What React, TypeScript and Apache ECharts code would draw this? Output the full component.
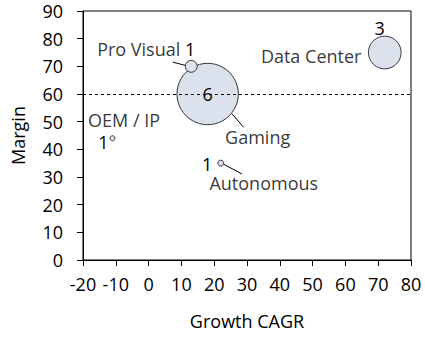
import React, { useEffect, useRef } from "react";
import * as echarts from "echarts";

const segments = ["Gaming", "Data Center", "Pro Visual", "Autonomous", "OEM / IP"];
const growthCAGR = [18, 72, 13, 22, -11];
const margin = [60, 75, 70, 35, 44];
const revenue = [6.2, 3.3, 1.2, 0.6, 0.5];
const referenceMargin = 60;
const xMin = -20, xMax = 80, xStep = 10;
const yMin = 0, yMax = 90, yStep = 10;

// presentation only
const PX_PER_UNIT = 9.9;
const FONT = "Open Sans";
const FS = 18;
const countLabel: Record<string, { position: string; offset: number[] }> = {
  Gaming: { position: "inside", offset: [0, 0] },
  "Data Center": { position: "top", offset: [-5, 3] },
  "Pro Visual": { position: "top", offset: [-1, 0] },
  Autonomous: { position: "left", offset: [-2, 1] },
  "OEM / IP": { position: "left", offset: [2, 4] },
};
const nameLabel: Record<string, { position: string; offset: number[] }> = {
  Gaming: { position: "bottom", offset: [50, -1] },
  "Data Center": { position: "left", offset: [-2, 3] },
  "Pro Visual": { position: "left", offset: [0, -17] },
  Autonomous: { position: "bottom", offset: [43, 3.5] },
  "OEM / IP": { position: "top", offset: [11.5, -2.5] },
};
// leader lines: start angle on the bubble edge, line angle, length (degrees / px)
const leader: Record<string, number[] | null> = {
  Gaming: [39, 49, 18.6],
  "Data Center": null,
  "Pro Visual": [189, 194.6, 13],
  Autonomous: [20, 28, 21],
  "OEM / IP": null,
};

export default function App() {
  const ref = useRef<HTMLDivElement>(null);
  useEffect(() => {
    if (!ref.current) return;
    const chart = echarts.init(ref.current, undefined, { renderer: "svg" });
    const points = segments.map((name, i) => ({
      name,
      value: [growthCAGR[i], margin[i], revenue[i]],
    }));
    const txt = { fontFamily: FONT, fontSize: FS, color: "#000" };
    chart.setOption({
      animation: false,
      textStyle: txt,
      grid: {
        left: 83, right: 14, top: 11, bottom: 77,
        show: true, borderColor: "#000", borderWidth: 1,
      },
      xAxis: {
        type: "value", min: xMin, max: xMax, interval: xStep,
        name: "Growth CAGR", nameLocation: "middle", nameGap: 52,
        nameTextStyle: txt,
        axisLine: { show: true, onZero: false, lineStyle: { color: "#000", width: 1 } },
        axisTick: { show: true, length: 6, lineStyle: { color: "#000" } },
        axisLabel: { margin: 15, ...txt },
        splitLine: { show: false },
      },
      yAxis: {
        type: "value", min: yMin, max: yMax, interval: yStep,
        name: "Margin", nameLocation: "middle", nameGap: 56, nameRotate: 90,
        nameTextStyle: txt,
        axisLine: { show: true, onZero: false, lineStyle: { color: "#000", width: 1 } },
        axisTick: { show: true, length: 6, lineStyle: { color: "#000" } },
        axisLabel: { margin: 20, ...txt },
        splitLine: { show: false },
      },
      series: [
        {
          type: "custom",
          z: 1,
          silent: true,
          data: points,
          renderItem: (params: any, api: any) => {
            const cfg = leader[segments[params.dataIndex]];
            if (!cfg) return null;
            const c = api.coord([api.value(0), api.value(1)]);
            const r = (api.value(2) * PX_PER_UNIT) / 2;
            const a0 = (cfg[0] * Math.PI) / 180;
            const a1 = (cfg[1] * Math.PI) / 180;
            const x1 = c[0] + r * Math.cos(a0);
            const y1 = c[1] + r * Math.sin(a0);
            return {
              type: "line",
              shape: { x1, y1, x2: x1 + cfg[2] * Math.cos(a1), y2: y1 + cfg[2] * Math.sin(a1) },
              style: { stroke: "#000", lineWidth: 1 },
            };
          },
        },
        {
          type: "scatter",
          z: 3,
          data: points.map((p) => ({
            ...p,
            label: { position: countLabel[p.name].position, offset: countLabel[p.name].offset },
          })),
          symbolSize: (v: number[]) => v[2] * PX_PER_UNIT,
          itemStyle: { color: "#dbe1ed", borderColor: "#333", borderWidth: 1, opacity: 1 },
          label: {
            show: true,
            distance: 3,
            ...txt,
            lineHeight: 16,
            formatter: (p: any) => String(Math.round(p.value[2])),
          },
          markLine: {
            silent: true,
            symbol: "none",
            label: { show: false },
            lineStyle: { color: "#000", type: [3, 3], width: 1 },
            data: [{ yAxis: referenceMargin }],
          },
        },
        {
          type: "scatter",
          z: 2,
          silent: true,
          data: points.map((p) => ({
            ...p,
            label: { position: nameLabel[p.name].position, offset: nameLabel[p.name].offset },
          })),
          symbolSize: (v: number[]) => v[2] * PX_PER_UNIT,
          itemStyle: { color: "rgba(0,0,0,0)", borderWidth: 0 },
          label: {
            show: true,
            distance: 5,
            ...txt,
            lineHeight: 16,
            formatter: (p: any) => p.name,
          },
        },
      ],
    });
    return () => chart.dispose();
  }, []);
  return (
    <div
      ref={ref}
      style={{ position: "fixed", left: 0, top: 0, width: 425, height: 337, background: "#fff" }}
    />
  );
}
